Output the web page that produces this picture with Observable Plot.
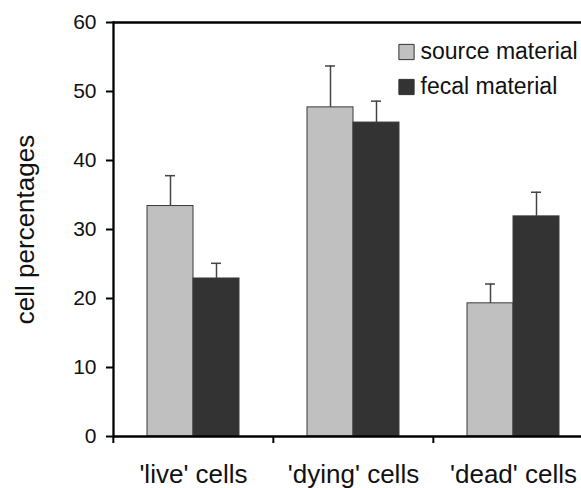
<!DOCTYPE html>
<html><head><meta charset="utf-8">
<script src="https://cdn.jsdelivr.net/npm/d3@7"></script>
<script src="https://cdn.jsdelivr.net/npm/@observablehq/plot@0.6"></script>
<style>
html,body{margin:0;padding:0;background:#fff;overflow:hidden}
</style></head><body><div id="chart"></div>
<script>
const categories = ["'live' cells", "'dying' cells", "'dead' cells"];
const seriesNames = ["source material", "fecal material"];
const sourceValues = [33.4, 47.7, 19.3];
const sourceErrors = [4.4, 6.0, 2.8];
const fecalValues = [22.9, 45.5, 31.9];
const fecalErrors = [2.2, 3.1, 3.5];
const seriesColors = ["#c0c0c0", "#333333"];
const yTicks = [0, 10, 20, 30, 40, 50, 60];
const yLabel = "cell percentages";

const data = categories.flatMap((c, i) => [
  {category: c, series: seriesNames[0], value: sourceValues[i], hi: sourceValues[i] + sourceErrors[i]},
  {category: c, series: seriesNames[1], value: fecalValues[i], hi: fecalValues[i] + fecalErrors[i]}
]);

const W = 581, H = 488, mL = 112, fxEnd = 593;
const bw = (fxEnd - mL) / categories.length;
const font = "'Liberation Sans', Arial, Helvetica, sans-serif";

const legendMarks = seriesNames.flatMap((s, i) => [
  Plot.dot([s], {frameAnchor: "top-left", dx: 293, dy: 29.5 + 35 * i, symbol: "square", r: 8.6,
    fill: d => d, stroke: "#333", strokeWidth: 1, facet: "super"}),
  Plot.text([s], {frameAnchor: "top-left", dx: 307, dy: 29 + 35 * i, text: d => d, textAnchor: "start",
    lineAnchor: "middle", fontSize: 23, fill: "#111", facet: "super"})
]);

const plot = Plot.plot({
  width: W, height: H,
  marginLeft: mL, marginRight: 0, marginTop: 22, marginBottom: 52,
  style: {fontFamily: font, background: "#fff", color: "#111"},
  fx: {domain: categories, range: [mL, fxEnd], padding: 0, label: null},
  x: {domain: seriesNames, paddingInner: 0, paddingOuter: 0.72, axis: null},
  y: {domain: [0, 60], label: null},
  color: {domain: seriesNames, range: seriesColors},
  marks: [
    Plot.barY(data, {fx: "category", x: "series", y: "value", fill: "series", stroke: "#3a3a3a", strokeWidth: 1}),
    Plot.ruleX(data, {fx: "category", x: "series", y1: "value", y2: "hi", stroke: "#444", strokeWidth: 1.5}),
    Plot.tickY(data, {fx: "category", x: "series", y: "hi", insetLeft: 18, insetRight: 18, stroke: "#444", strokeWidth: 1.5}),
    Plot.ruleY([0, 60], {stroke: "#000", strokeWidth: 2.3}),
    Plot.frame({anchor: "left", facetAnchor: "left", stroke: "#000", strokeWidth: 2.3}),
    Plot.axisY({ticks: yTicks, tickSize: 7, tickPadding: 10, fontSize: 21, stroke: "#000", strokeWidth: 2, label: null}),
    Plot.axisFx({anchor: "bottom", tickSize: 7, tickFormat: () => "", dx: -bw / 2, stroke: "#000", strokeWidth: 2, label: null}),
    Plot.axisFx({anchor: "bottom", tickSize: 0, tickPadding: 28, fontSize: 26, label: null}),
    Plot.text([yLabel], {frameAnchor: "left", facetAnchor: "left", rotate: -90, dx: -88, text: d => d,
      textAnchor: "middle", lineAnchor: "middle", fontSize: 26, fill: "#111"}),
    ...legendMarks
  ]
});
document.getElementById("chart").appendChild(plot);
</script></body></html>
